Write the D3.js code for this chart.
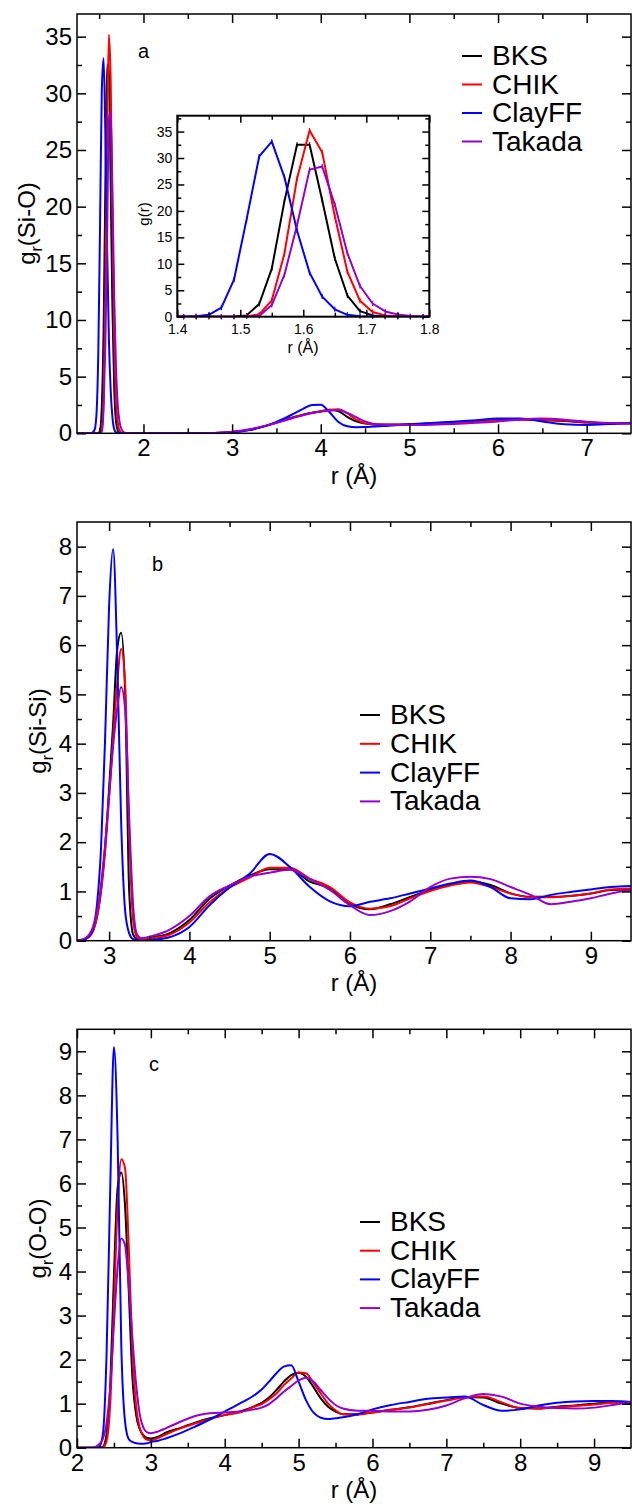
<!DOCTYPE html>
<html><head><meta charset="utf-8">
<script src="https://cdn.jsdelivr.net/npm/d3@7"></script>
<style>
body{margin:0;background:#fff}
svg{display:block}
text{font-family:"Liberation Sans",Arial,Helvetica,sans-serif;fill:#000}
</style>
</head><body>
<svg id="chart" width="632" height="1504"></svg>
<script>
// ---------------- DATA ----------------
const seriesNames = ["BKS", "CHIK", "ClayFF", "Takada"];

// Panel a : g(Si-O), first peak (also shown in the inset)
const rSiONear = [1.25,1.37,1.39,1.41,1.43,1.45,1.47,1.49,1.51,1.53,1.55,1.57,1.59,1.61,1.63,1.65,1.67,1.69,1.71,1.73,1.75,1.77,1.79,1.81];
const siONearBKS    = [0,0,0,0,0,0,0,0.02,0.25,2.4,9.1,21.8,32.5,32.5,22.0,11.0,4.0,1.05,0.25,0.05,0.01,0,0,0];
const siONearCHIK   = [0,0,0,0,0,0,0,0,0.05,0.45,3.1,11.9,26.1,35.2,31.1,19.0,8.5,3.0,0.9,0.25,0.05,0.01,0,0];
const siONearClayFF = [0,0,0.01,0.03,0.1,0.35,1.7,7.0,18.4,30.3,33.1,26.4,16.3,8.3,3.8,1.4,0.35,0.08,0.02,0,0,0,0,0];
const siONearTakada = [0,0,0,0,0,0,0,0,0.02,0.15,2.2,7.9,17.3,27.8,28.4,21.2,12.0,5.8,2.5,1.0,0.4,0.15,0.05,0.01];

// Panel a : g(Si-O), longer range
const rSiOFar = [1.85,2.2,2.6,2.8,3.0,3.2,3.4,3.6,3.7,3.8,3.9,4.0,4.1,4.2,4.3,4.4,4.5,4.6,4.7,4.8,5.0,5.25,5.5,5.75,6.0,6.25,6.5,6.75,7.0,7.25,7.5];
const siOFarBKS    = [0,0,0,0.02,0.12,0.32,0.7,1.2,1.45,1.65,1.82,1.95,2.08,1.95,1.45,1.05,0.86,0.8,0.78,0.78,0.8,0.87,0.95,1.05,1.18,1.22,1.18,1.08,0.95,0.88,0.86];
const siOFarCHIK   = [0,0,0,0.02,0.12,0.32,0.7,1.18,1.42,1.62,1.8,1.93,2.07,2.12,1.75,1.2,0.9,0.78,0.76,0.76,0.78,0.83,0.9,1.0,1.12,1.2,1.2,1.12,0.98,0.9,0.88];
const siOFarClayFF = [0,0,0,0.02,0.1,0.3,0.7,1.35,1.75,2.15,2.5,2.52,1.85,1.0,0.62,0.54,0.55,0.6,0.64,0.68,0.8,0.92,1.03,1.15,1.3,1.3,1.05,0.8,0.74,0.82,0.94];
const siOFarTakada = [0,0,0,0.03,0.14,0.35,0.72,1.15,1.38,1.6,1.8,1.9,2.0,2.05,1.8,1.42,1.05,0.82,0.75,0.73,0.73,0.76,0.82,0.92,1.05,1.22,1.3,1.2,1.02,0.9,0.87];

// Panel b : g(Si-Si)
const rSiSi = [2.6,2.65,2.7,2.75,2.8,2.85,2.9,2.95,3.0,3.05,3.1,3.15,3.2,3.25,3.3,3.35,3.4,3.45,
               3.5,3.75,4.0,4.25,4.5,4.75,5.0,5.25,5.5,5.75,6.0,6.25,6.5,6.75,7.0,7.25,7.5,7.75,8.0,8.25,8.5,8.75,9.0,9.25,9.5];
const siSiBKS    = [0,0.01,0.03,0.08,0.2,0.5,1.05,1.9,3.1,4.4,5.9,6.25,5.0,1.0,0.12,0.03,0.01,0.02,
                    0.05,0.15,0.42,0.85,1.12,1.32,1.45,1.45,1.2,1.06,0.74,0.64,0.74,0.89,1.03,1.15,1.2,1.13,0.96,0.89,0.89,0.91,0.96,1.03,1.04];
const siSiCHIK   = [0,0.01,0.03,0.08,0.2,0.48,1.0,1.8,2.9,4.1,5.2,5.92,5.2,2.2,0.4,0.06,0.02,0.02,
                    0.04,0.12,0.37,0.78,1.08,1.28,1.48,1.48,1.26,1.09,0.78,0.65,0.7,0.86,1.01,1.12,1.18,1.09,0.96,0.88,0.88,0.91,0.96,1.04,1.06];
const siSiClayFF = [0,0.01,0.03,0.1,0.25,0.75,1.9,4.1,6.8,7.95,5.8,2.4,0.6,0.15,0.03,0.01,0,0,
                    0.01,0.07,0.28,0.72,1.08,1.36,1.76,1.5,1.09,0.8,0.7,0.79,0.86,0.96,1.06,1.16,1.22,1.09,0.86,0.84,0.93,0.99,1.04,1.09,1.11];
const siSiTakada = [0.01,0.02,0.05,0.12,0.28,0.6,1.15,1.95,2.95,3.95,4.7,5.15,4.7,2.5,0.7,0.12,0.05,0.06,
                    0.08,0.22,0.5,0.9,1.12,1.3,1.38,1.44,1.25,1.03,0.72,0.52,0.6,0.8,1.09,1.26,1.3,1.25,1.09,0.93,0.74,0.79,0.86,0.96,1.03];

// Panel c : g(O-O)
const rOO = [2.0,2.2,2.25,2.3,2.35,2.4,2.45,2.5,2.55,2.6,2.65,2.7,2.75,2.8,2.85,2.9,2.95,3.0,
             3.1,3.2,3.4,3.6,3.8,4.0,4.2,4.4,4.5,4.6,4.7,4.8,4.9,5.0,5.1,5.2,5.3,5.4,5.5,5.6,5.8,6.0,6.25,6.5,6.75,7.0,7.25,7.5,7.75,8.0,8.25,8.5,8.75,9.0,9.25,9.5];
const ooBKS    = [0,0,0,0,0.02,0.3,1.4,3.9,5.9,6.25,5.5,3.6,1.6,0.75,0.42,0.28,0.22,0.21,
                  0.25,0.34,0.45,0.57,0.67,0.74,0.82,0.94,1.02,1.14,1.31,1.5,1.65,1.7,1.61,1.38,1.12,0.93,0.82,0.76,0.76,0.8,0.86,0.92,1.0,1.08,1.15,1.14,1.0,0.9,0.89,0.93,0.96,1.0,1.03,1.0];
const ooCHIK   = [0,0,0,0,0.01,0.15,1.0,3.2,5.5,6.55,6.35,4.6,2.2,0.95,0.45,0.25,0.18,0.17,
                  0.22,0.3,0.44,0.55,0.65,0.74,0.8,0.93,0.99,1.1,1.23,1.42,1.57,1.71,1.69,1.47,1.23,1.0,0.85,0.76,0.75,0.8,0.86,0.91,0.99,1.07,1.14,1.16,1.03,0.9,0.89,0.92,0.95,0.98,1.02,1.04];
const ooClayFF = [0,0,0,0.02,0.3,2.1,5.9,9.1,7.0,2.3,0.6,0.2,0.13,0.1,0.09,0.09,0.1,0.13,
                  0.16,0.21,0.33,0.48,0.64,0.82,1.0,1.19,1.32,1.5,1.69,1.84,1.87,1.5,1.08,0.8,0.68,0.65,0.67,0.69,0.76,0.87,0.97,1.04,1.11,1.14,1.16,0.97,0.84,0.87,0.96,1.02,1.05,1.06,1.06,1.04];
const ooTakada = [0,0,0.02,0.08,0.2,0.55,1.4,2.8,4.1,4.75,4.6,3.7,2.5,1.45,0.75,0.45,0.35,0.33,
                  0.37,0.44,0.59,0.72,0.78,0.8,0.82,0.87,0.91,0.99,1.12,1.27,1.4,1.53,1.59,1.5,1.31,1.12,0.97,0.89,0.84,0.84,0.82,0.82,0.86,0.96,1.12,1.22,1.16,1.0,0.93,0.9,0.89,0.91,0.97,1.04];

// tick labels
const xTicksSiO = [2,3,4,5,6,7];
const yTicksSiO = [0,5,10,15,20,25,30,35];
const xTicksInset = [1.4,1.5,1.6,1.7,1.8];
const yTicksInset = [0,5,10,15,20,25,30,35];
const xTicksSiSi = [3,4,5,6,7,8,9];
const yTicksSiSi = [0,1,2,3,4,5,6,7,8];
const xTicksOO = [2,3,4,5,6,7,8,9];
const yTicksOO = [0,1,2,3,4,5,6,7,8,9];

// ---------------- STYLE ----------------
const seriesColors = ["#000000", "#ff0000", "#0000ff", "#9400d3"];
const svg = d3.select("#chart");
const FONT = '"Liberation Sans",Arial,Helvetica,sans-serif';

function drawAxes(g, x, y, o) {
  const L = x.range()[0], R = x.range()[1], B = y.range()[0], T = y.range()[1];
  const fmtX = o.fmtX || (d => d);
  g.append("g").attr("transform", `translate(0,${B})`)
    .call(d3.axisBottom(x).tickValues(o.xTicks).tickSizeInner(-o.major).tickSizeOuter(0).tickPadding(o.xPad).tickFormat(fmtX))
    .call(s => { s.select(".domain").remove(); s.selectAll("text").attr("font-size", o.fs).attr("font-family", FONT).attr("fill", "#000"); });
  g.append("g").attr("transform", `translate(0,${B})`)
    .call(d3.axisBottom(x).tickValues(o.xMinor).tickSizeInner(-o.minor).tickSizeOuter(0).tickFormat(""))
    .call(s => s.select(".domain").remove());
  g.append("g").attr("transform", `translate(0,${T})`)
    .call(d3.axisTop(x).tickValues(o.xTicks).tickSizeInner(-o.major).tickSizeOuter(0).tickFormat(""))
    .call(s => s.select(".domain").remove());
  g.append("g").attr("transform", `translate(0,${T})`)
    .call(d3.axisTop(x).tickValues(o.xMinor).tickSizeInner(-o.minor).tickSizeOuter(0).tickFormat(""))
    .call(s => s.select(".domain").remove());
  g.append("g").attr("transform", `translate(${L},0)`)
    .call(d3.axisLeft(y).tickValues(o.yTicks).tickSizeInner(-o.major).tickSizeOuter(0).tickPadding(o.yPad).tickFormat(d => d))
    .call(s => { s.select(".domain").remove(); s.selectAll("text").attr("font-size", o.fs).attr("font-family", FONT).attr("fill", "#000"); });
  g.append("g").attr("transform", `translate(${L},0)`)
    .call(d3.axisLeft(y).tickValues(o.yMinor).tickSizeInner(-o.minor).tickSizeOuter(0).tickFormat(""))
    .call(s => s.select(".domain").remove());
  g.append("g").attr("transform", `translate(${R},0)`)
    .call(d3.axisRight(y).tickValues(o.yTicks).tickSizeInner(-o.major).tickSizeOuter(0).tickFormat(""))
    .call(s => s.select(".domain").remove());
  g.append("g").attr("transform", `translate(${R},0)`)
    .call(d3.axisRight(y).tickValues(o.yMinor).tickSizeInner(-o.minor).tickSizeOuter(0).tickFormat(""))
    .call(s => s.select(".domain").remove());
  g.selectAll(".tick line").attr("stroke", "#000").attr("stroke-width", o.tw);
  g.append("rect").attr("x", L).attr("y", T).attr("width", R - L).attr("height", B - T)
    .attr("fill", "none").attr("stroke", "#000").attr("stroke-width", o.fw);
}

function drawCurves(g, x, y, series, clipId, lw, curve) {
  const line = d3.line().x(d => x(d[0])).y(d => y(d[1])).curve(curve);
  series.forEach((s, i) => {
    const pts = s.r.map((r, k) => [r, s.g[k]]);
    g.append("path").datum(pts).attr("d", line)
      .attr("fill", "none").attr("stroke", seriesColors[i]).attr("stroke-width", lw)
      .attr("stroke-linejoin", "round").attr("clip-path", `url(#${clipId})`);
  });
}

function addClip(id, x, y) {
  svg.append("clipPath").attr("id", id).append("rect")
    .attr("x", x.range()[0]).attr("y", y.range()[1])
    .attr("width", x.range()[1] - x.range()[0]).attr("height", y.range()[0] - y.range()[1]);
}

function yTitle(cx, cy, main, sub, rest, fs) {
  const t = svg.append("text").attr("transform", `translate(${cx},${cy}) rotate(-90)`)
    .attr("text-anchor", "middle").attr("font-size", fs);
  t.append("tspan").text(main);
  t.append("tspan").attr("font-size", fs * 0.66).attr("dy", fs * 0.28).text(sub);
  t.append("tspan").attr("dy", -fs * 0.28).text(rest);
}

function legend(x0, yBase, step) {
  seriesNames.forEach((n, i) => {
    const yb = yBase + i * step;
    svg.append("line").attr("x1", x0).attr("x2", x0 + 20).attr("y1", yb - 9).attr("y2", yb - 9)
      .attr("stroke", seriesColors[i]).attr("stroke-width", 2);
    svg.append("text").attr("x", x0 + 30).attr("y", yb).attr("font-size", 28).text(n);
  });
}

const mainAxis = { major: 9, minor: 5, tw: 1.5, fw: 1.5, fs: 24, xPad: 6, yPad: 5 };

// ---------------- PANEL a ----------------
{
  const x = d3.scaleLinear().domain([1.25, 7.5]).range([77, 631]);
  const y = d3.scaleLinear().domain([0, 37]).range([433.3, 14]);
  addClip("clipA", x, y);
  const g = svg.append("g");
  const rAll = rSiONear.concat(rSiOFar);
  drawCurves(g, x, y, [
    { r: rAll, g: siONearBKS.concat(siOFarBKS) },
    { r: rAll, g: siONearCHIK.concat(siOFarCHIK) },
    { r: rAll, g: siONearClayFF.concat(siOFarClayFF) },
    { r: rAll, g: siONearTakada.concat(siOFarTakada) }
  ], "clipA", 2, d3.curveMonotoneX);
  drawAxes(g, x, y, Object.assign({}, mainAxis, {
    xTicks: xTicksSiO, xMinor: d3.range(1.5, 7.5, 1),
    yTicks: yTicksSiO, yMinor: d3.range(2.5, 37, 5)
  }));
  svg.append("text").attr("x", 354).attr("y", 484).attr("text-anchor", "middle").attr("font-size", 24).text("r (Å)");
  yTitle(35, 223.5, "g", "r", "(Si-O)", 24);
  svg.append("text").attr("x", 138).attr("y", 58).attr("font-size", 20).text("a");
  legend(462, 65, 28.5);

  // inset
  const xi = d3.scaleLinear().domain([1.4, 1.8]).range([177.3, 429.3]);
  const yi = d3.scaleLinear().domain([0, 38]).range([316.7, 115.7]);
  const gi = svg.append("g");
  gi.append("rect").attr("x", 177.3).attr("y", 115.7).attr("width", 252).attr("height", 201).attr("fill", "#fff");
  addClip("clipInset", xi, yi);
  const insetSeries = [
    { r: rSiONear, g: siONearBKS }, { r: rSiONear, g: siONearCHIK },
    { r: rSiONear, g: siONearClayFF }, { r: rSiONear, g: siONearTakada }
  ];
  drawCurves(gi, xi, yi, insetSeries, "clipInset", 2, d3.curveLinear);
  insetSeries.forEach((s, i) => {
    s.r.forEach((r, k) => {
      if (r < 1.4 || r > 1.8) return;
      gi.append("line").attr("x1", xi(r)).attr("x2", xi(r))
        .attr("y1", yi(s.g[k]) - 2.5).attr("y2", yi(s.g[k]) + 2.5)
        .attr("stroke", seriesColors[i]).attr("stroke-width", 1.2);
    });
  });
  drawAxes(gi, xi, yi, {
    major: 7, minor: 4, tw: 1.5, fw: 2, fs: 14, xPad: 7, yPad: 5,
    xTicks: xTicksInset, xMinor: [1.45, 1.55, 1.65, 1.75], fmtX: d3.format(".1f"),
    yTicks: yTicksInset, yMinor: d3.range(2.5, 38, 5)
  });
  svg.append("text").attr("x", 303).attr("y", 353).attr("text-anchor", "middle").attr("font-size", 16).text("r (Å)");
  svg.append("text").attr("transform", "translate(149,214) rotate(-90)").attr("text-anchor", "middle")
    .attr("font-size", 15).text("g(r)");
}

// ---------------- PANEL b ----------------
{
  const x = d3.scaleLinear().domain([2.6, 9.5]).range([77, 631]);
  const y = d3.scaleLinear().domain([0, 8.5]).range([940.7, 522]);
  addClip("clipB", x, y);
  const g = svg.append("g");
  drawCurves(g, x, y, [
    { r: rSiSi, g: siSiBKS }, { r: rSiSi, g: siSiCHIK },
    { r: rSiSi, g: siSiClayFF }, { r: rSiSi, g: siSiTakada }
  ], "clipB", 2, d3.curveMonotoneX);
  drawAxes(g, x, y, Object.assign({}, mainAxis, {
    xTicks: xTicksSiSi, xMinor: d3.range(3.5, 9.5, 1),
    yTicks: yTicksSiSi, yMinor: d3.range(0.5, 8.5, 1)
  }));
  svg.append("text").attr("x", 354).attr("y", 991).attr("text-anchor", "middle").attr("font-size", 24).text("r (Å)");
  yTitle(46, 731, "g", "r", "(Si-Si)", 24);
  svg.append("text").attr("x", 152).attr("y", 571).attr("font-size", 20).text("b");
  legend(360, 724, 28.8);
}

// ---------------- PANEL c ----------------
{
  const x = d3.scaleLinear().domain([2, 9.5]).range([77, 631]);
  const y = d3.scaleLinear().domain([0, 9.5]).range([1447.7, 1029.3]);
  addClip("clipC", x, y);
  const g = svg.append("g");
  drawCurves(g, x, y, [
    { r: rOO, g: ooBKS }, { r: rOO, g: ooCHIK },
    { r: rOO, g: ooClayFF }, { r: rOO, g: ooTakada }
  ], "clipC", 2, d3.curveMonotoneX);
  drawAxes(g, x, y, Object.assign({}, mainAxis, {
    xTicks: xTicksOO, xMinor: d3.range(2.5, 9.5, 1),
    yTicks: yTicksOO, yMinor: d3.range(0.5, 9.5, 1)
  }));
  svg.append("text").attr("x", 354).attr("y", 1498).attr("text-anchor", "middle").attr("font-size", 24).text("r (Å)");
  yTitle(46, 1238.5, "g", "r", "(O-O)", 24);
  svg.append("text").attr("x", 149).attr("y", 1071).attr("font-size", 20).text("c");
  legend(360, 1231, 28.7);
}
</script>
</body></html>
